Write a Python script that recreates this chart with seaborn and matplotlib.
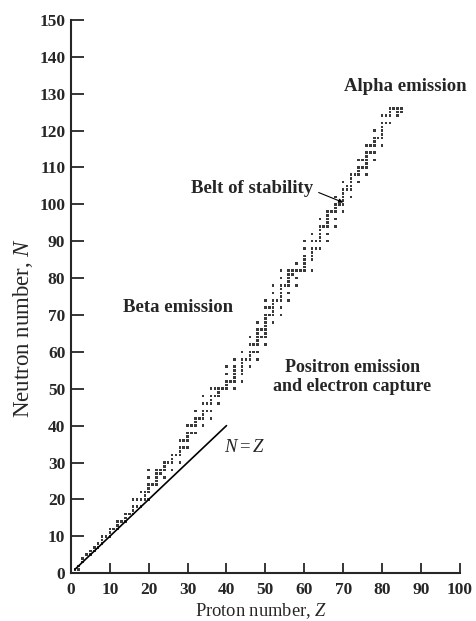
import numpy as np
import pandas as pd
import matplotlib
matplotlib.use("Agg")
import matplotlib.pyplot as plt
import seaborn as sns

# stable nuclides: proton number and its neutron numbers
z_values = [1, 2, 3, 4, 5, 6, 7, 8, 9, 10,
            11, 12, 13, 14, 15, 16, 17, 18, 19, 20,
            21, 22, 23, 24, 25, 26, 27, 28, 29, 30,
            31, 32, 33, 34, 35, 36, 37, 38, 39, 40,
            41, 42, 44, 45, 46, 47, 48, 49, 50,
            51, 52, 53, 54, 55, 56, 57, 58, 59, 60,
            62, 63, 64, 65, 66, 67, 68, 69, 70,
            71, 72, 73, 74, 75, 76, 77, 78, 79, 80,
            81, 82, 83, 84, 85]
n_lists = [[0, 1], [1, 2], [3, 4], [5], [5, 6], [6, 7], [7, 8], [8, 9, 10], [10], [10, 11, 12],
           [12], [12, 13, 14], [14], [14, 15, 16], [16], [16, 17, 18, 20], [18, 20], [18, 20, 22], [20, 21, 22], [20, 22, 23, 24, 26, 28],
           [24], [24, 25, 26, 27, 28], [27, 28], [26, 28, 29, 30], [30], [28, 30, 31, 32], [32], [30, 32, 33, 34, 36], [34, 36], [34, 36, 37, 38, 40],
           [38, 40], [38, 40, 41, 42, 44], [42], [40, 42, 43, 44, 46, 48], [44, 46], [42, 44, 46, 47, 48, 50], [48, 50], [46, 48, 49, 50], [50], [50, 51, 52, 54, 56],
           [52], [50, 52, 53, 54, 55, 56, 58], [52, 54, 55, 56, 57, 58, 60], [58], [56, 58, 59, 60, 62, 64], [60, 62], [58, 60, 62, 63, 64, 65, 66, 68], [64, 66], [62, 64, 65, 66, 67, 68, 69, 70, 72, 74],
           [70, 72], [68, 70, 71, 72, 73, 74, 76, 78], [74], [70, 72, 74, 75, 76, 77, 78, 80, 82], [78], [74, 76, 78, 79, 80, 81, 82], [81, 82], [78, 80, 82, 84], [82], [82, 83, 84, 85, 86, 88, 90],
           [82, 85, 86, 87, 88, 90, 92], [88, 90], [88, 90, 91, 92, 93, 94, 96], [94], [90, 92, 94, 95, 96, 97, 98], [98], [94, 96, 98, 99, 100, 102], [100], [98, 100, 101, 102, 103, 104, 106],
           [104, 105], [102, 104, 105, 106, 107, 108], [108], [106, 108, 109, 110, 112], [110, 112], [108, 110, 111, 112, 113, 114, 116], [114, 116], [112, 114, 116, 117, 118, 120], [118], [116, 118, 119, 120, 121, 122, 124],
           [122, 124], [122, 124, 125, 126], [126], [124, 125, 126], [125, 126]]

line_z = [1, 40]
line_n = [1, 40]

x_ticks = list(range(0, 101, 10))
y_ticks = list(range(0, 151, 10))

belt = pd.DataFrame({"Z": z_values, "N": n_lists}).explode("N")
belt["N"] = belt["N"].astype(float)

sns.set_style("ticks")
plt.rcParams["font.family"] = ["Liberation Serif", "DejaVu Serif"]
plt.rcParams["mathtext.fontset"] = "custom"
plt.rcParams["mathtext.rm"] = "Liberation Serif"
plt.rcParams["mathtext.it"] = "Liberation Serif:italic"

fig = plt.figure(figsize=(4.76, 6.21), dpi=100)
ax = fig.add_axes([0.149, 0.077, 0.817, 0.891])

sns.scatterplot(data=belt, x="Z", y="N", marker="s", s=3.5, color="#3a3a3a",
                edgecolor="none", ax=ax, legend=False)
sns.lineplot(x=line_z, y=line_n, color="black", linewidth=1.2, ax=ax)

ax.set_xlim(0, 100)
ax.set_ylim(0, 150)
ax.set_xticks(x_ticks)
ax.set_yticks(y_ticks)
ax.tick_params(direction="in", width=1.3, labelsize=12.5)
ax.tick_params(axis="y", length=9.5, pad=4)
ax.tick_params(axis="x", length=7, pad=6)
for lab in ax.get_xticklabels() + ax.get_yticklabels():
    lab.set_fontweight("bold")
sns.despine(ax=ax)
for sp in ["left", "bottom"]:
    ax.spines[sp].set_linewidth(1.5)

ax.set_xlabel("Proton number, $Z$", fontsize=13.3)
ax.set_ylabel("Neutron number, $N$", fontsize=16.5)
ax.xaxis.set_label_coords(0.49, -0.069)
ax.yaxis.set_label_coords(-0.123, 0.444)
ax.xaxis.label.set_va("center")
ax.yaxis.label.set_va("center")

ax.text(85.9, 132, "Alpha emission", ha="center", va="center", fontsize=13.5, fontweight="bold")
ax.annotate("Belt of stability", xy=(70, 100.5), xytext=(46.5, 104.3),
            ha="center", va="center", fontsize=13.5, fontweight="bold",
            arrowprops=dict(arrowstyle="-|>", lw=0.8, color="black",
                            mutation_scale=6, shrinkA=2, shrinkB=0,
                            relpos=(1.0, 0.4)))
ax.text(27.5, 72, "Beta emission", ha="center", va="center", fontsize=13.5, fontweight="bold")
ax.text(72.3, 53.2, "Positron emission\nand electron capture", ha="center", va="center",
        fontsize=13, fontweight="bold", linespacing=1.2)
ax.text(44.7, 34, "$N = Z$", ha="center", va="center", fontsize=13.5)

fig.savefig("out.png", dpi=100)
